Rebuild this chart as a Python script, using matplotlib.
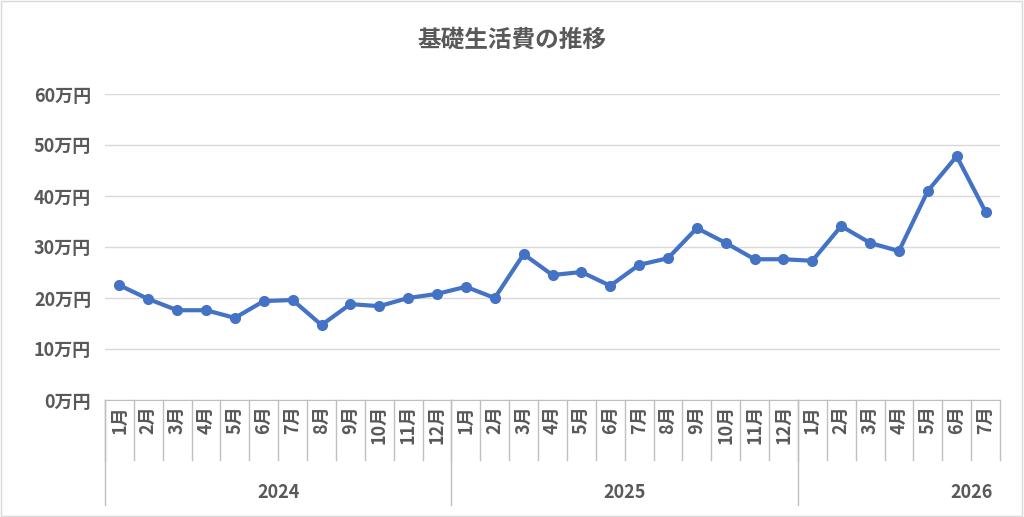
import matplotlib.pyplot as plt
from matplotlib.transforms import blended_transform_factory

plt.rcParams['font.family'] = ['Noto Sans CJK JP', 'DejaVu Sans']

years = ['2024', '2025', '2026']
months_per_year = [12, 12, 7]
values = [22.5, 19.8, 17.6, 17.6, 16.1, 19.4, 19.6, 14.7, 18.8, 18.4, 20.0, 20.8,
          22.2, 20.0, 28.6, 24.5, 25.1, 22.4, 26.5, 27.8, 33.7, 30.8, 27.6, 27.6,
          27.3, 34.1, 30.8, 29.2, 41.0, 47.8, 36.9]
month_labels = [f'{m}月' for n in months_per_year for m in range(1, n + 1)]

grey = '#595959'
line_col = '#4472C4'

fig = plt.figure(figsize=(10.24, 5.17), dpi=100)
ax = fig.add_axes([105 / 1024, 1 - 400 / 517, 895 / 1024, 306 / 517])
x = list(range(len(values)))
ax.plot(x, values, color=line_col, lw=3, marker='o', ms=7, zorder=3)
ax.set_xlim(-0.5, len(values) - 0.5)
ax.set_ylim(0, 60)
ax.set_yticks(range(0, 61, 10))
ax.set_yticklabels([f'{v}万円' for v in range(0, 61, 10)], color=grey, fontsize=13, fontweight='bold')
ax.tick_params(axis='y', length=0, pad=10)
ax.grid(axis='y', color='#d9d9d9', lw=1)
ax.set_axisbelow(True)
for s in ['top', 'right', 'left']:
    ax.spines[s].set_visible(False)
ax.spines['bottom'].set_color('#bfbfbf')
ax.set_xticks([])

tr = blended_transform_factory(ax.transData, ax.transAxes)
ax_h = 306
def yfrac(py):
    return (400 - py) / ax_h

for i, lab in enumerate(month_labels):
    ax.text(i, yfrac(405), lab, transform=tr, rotation=90, ha='center', va='top',
            color=grey, fontsize=13, fontweight='bold')
    ax.plot([i - 0.5, i - 0.5], [0, yfrac(460)], transform=tr, color='#bfbfbf', lw=1, clip_on=False)

start = 0
year_x = [5.5, 17.5, 29.5]
for n, yr, yx in zip(months_per_year, years, year_x):
    ax.plot([start - 0.5, start - 0.5], [0, yfrac(505)], transform=tr, color='#bfbfbf', lw=1, clip_on=False)
    ax.text(yx, yfrac(492), yr, transform=tr, ha='center', va='center',
            color=grey, fontsize=13, fontweight='bold')
    start += n
ax.plot([start - 0.5, start - 0.5], [0, yfrac(460)], transform=tr, color='#bfbfbf', lw=1, clip_on=False)

fig.text(0.5, 1 - 40 / 517, '基礎生活費の推移', ha='center', va='center', color=grey,
         fontsize=17, fontweight='bold')
fig.patches.append(plt.Rectangle((0.001, 0.002), 0.997, 0.996, transform=fig.transFigure,
                                 fill=False, edgecolor='#d9d9d9', lw=1))
fig.savefig('out.png', dpi=100)
